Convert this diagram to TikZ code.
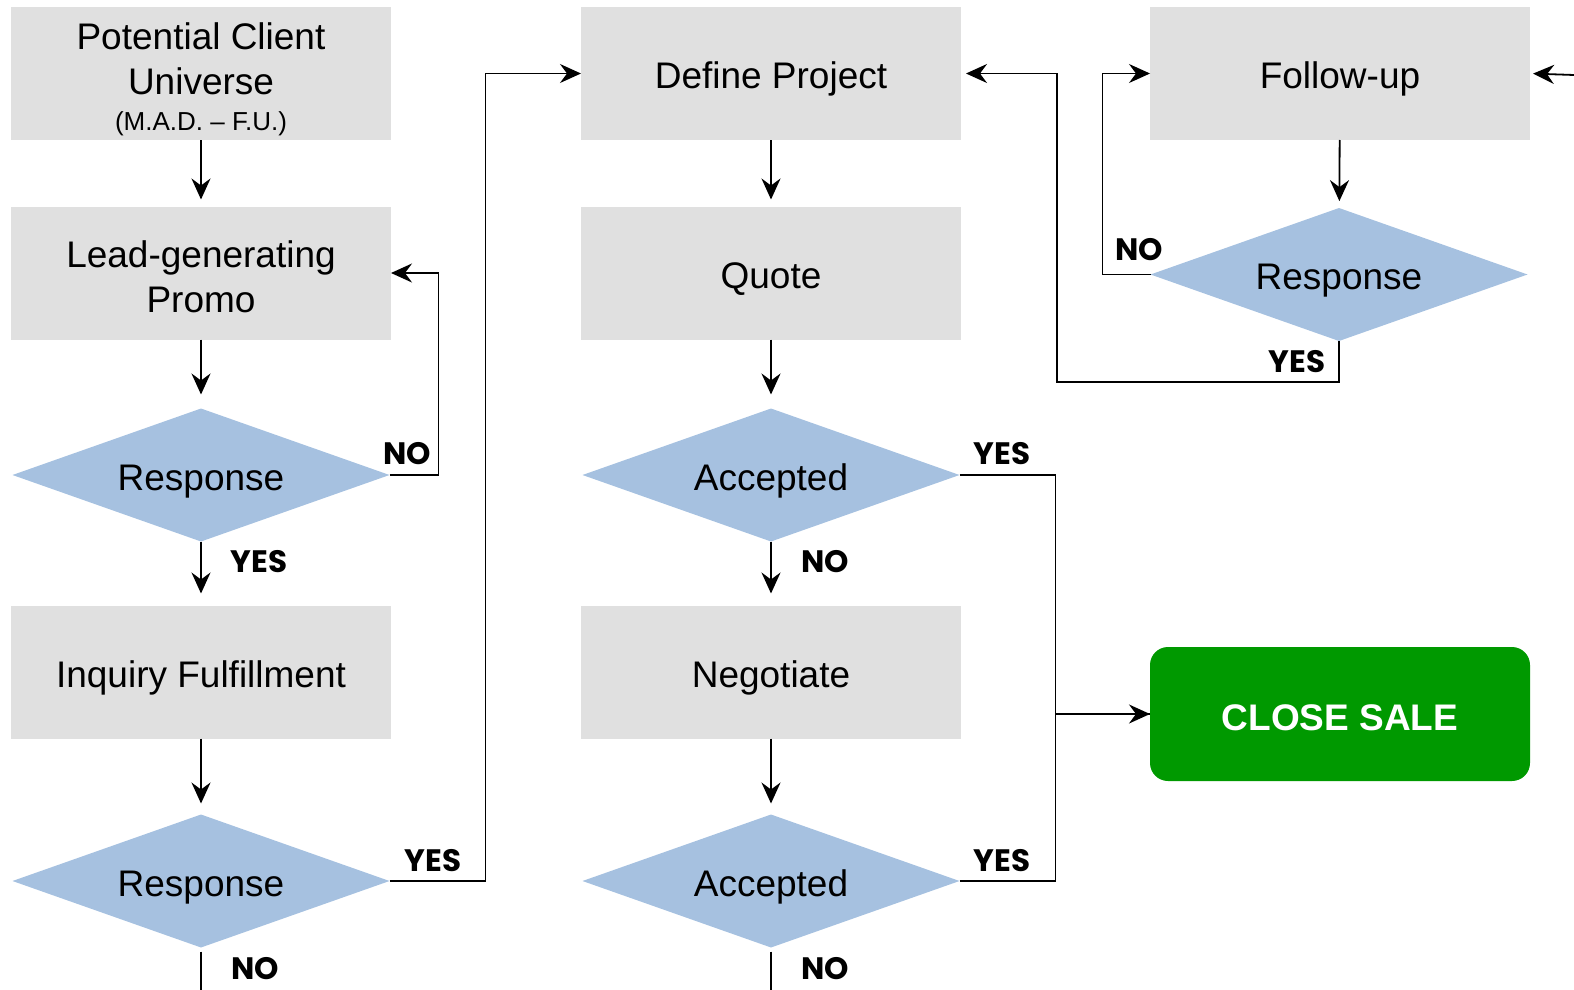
\documentclass[tikz,border=0pt]{standalone}
\usepackage{fontspec}
\setmainfont{Liberation Sans}
\newfontfamily\lblfont{Poppins}
\usetikzlibrary{shapes.geometric,arrows.meta}
\definecolor{boxgray}{RGB}{224,224,224}
\definecolor{diablue}{RGB}{166,193,224}
\definecolor{salegreen}{RGB}{0,153,0}
\newcommand{\topstrut}[1]{\rule{0pt}{#1}}
\begin{document}
\begin{tikzpicture}[x=1pt,y=-1pt,
  every node/.style={inner sep=0pt, outer sep=0pt},
  procbox/.style={rectangle, fill=boxgray, minimum width=380pt, minimum height=133pt,
    align=center, font=\fontsize{37}{45}\selectfont},
  decide/.style={diamond, aspect=2.83, fill=diablue, minimum width=377pt, minimum height=133pt,
    align=center, font=\fontsize{37}{45}\selectfont},
  salebox/.style={rectangle, rounded corners=18pt, fill=salegreen, minimum width=380pt,
    minimum height=134pt, text=white, font=\fontsize{37}{45}\selectfont\bfseries},
  lbl/.style={font=\lblfont\fontsize{31}{36}\selectfont\bfseries},
  conn/.style={line width=1.8pt, -{Stealth[length=21pt,width=19pt,inset=7pt]}},
  plain/.style={line width=1.8pt}
]
\useasboundingbox (0,0) rectangle (1574,990);
% column 1
\node[procbox] (P) at (201,73.5) {\topstrut{38pt}Potential Client\\Universe\\[-9pt]{\fontsize{26}{30}\selectfont (M.A.D. -- F.U.)}};
\node[procbox] (L) at (201,273) {\topstrut{34pt}Lead-generating\\Promo};
\node[decide] (R1) at (201,475) {\topstrut{38pt}Response};
\node[procbox] (I) at (201,672) {\topstrut{38pt}Inquiry Fulfillment};
\node[decide] (R2) at (201,881) {\topstrut{38pt}Response};
% column 2
\node[procbox] (D) at (771,73.5) {\topstrut{38pt}Define Project};
\node[procbox] (Q) at (771,273) {\topstrut{38pt}Quote};
\node[decide] (A1) at (771,475) {\topstrut{38pt}Accepted};
\node[procbox] (N) at (771,672) {\topstrut{38pt}Negotiate};
\node[decide] (A2) at (771,881) {\topstrut{38pt}Accepted};
% column 3
\node[procbox] (F) at (1340,73.5) {\topstrut{38pt}Follow-up};
\node[decide] (R3) at (1339,274.5) {\topstrut{38pt}Response};
\node[salebox] (C) at (1340,714) {\topstrut{33pt}CLOSE SALE};
% free ends
\coordinate (in) at (1574,75);
\coordinate (b1) at (201,990);
\coordinate (b2) at (771,990);
% vertical flow arrows
\draw[conn, shorten >=7pt] (P) -- (L);
\draw[conn, shorten >=14pt] (L) -- (R1);
\draw[conn, shorten >=12pt] (R1) -- (I);
\draw[conn, shorten >=11pt] (I) -- (R2);
\draw[conn, shorten >=7pt] (D) -- (Q);
\draw[conn, shorten >=14pt] (Q) -- (A1);
\draw[conn, shorten >=12pt] (A1) -- (N);
\draw[conn, shorten >=11pt] (N) -- (A2);
\draw[conn, shorten >=7pt] (F) -- (R3);
% loops and branches
\draw[conn] (R1.east) -- ++(49,0) |- (L.east);
\draw[conn] (R2.east) -- ++(96,0) |- (D.west);
\draw[conn] (A1.east) -- ++(96,0) |- (C.west);
\draw[plain] (A2.east) -- ++(96,0) |- (C.west);
\draw[conn] (R3.west) -- ++(-48,0) |- (F.west);
\draw[conn, shorten >=5pt] (R3.south) -- ++(0,41) -| ++(-282,0) |- (D.east);
\draw[conn, shorten >=3pt] (in) -- (F.east);
\draw[plain] ([yshift=-4pt]R2.south) -- (b1);
\draw[plain] ([yshift=-4pt]A2.south) -- (b2);
% labels
\node[lbl] at (407,454) {NO};
\node[lbl] at (259,562) {YES};
\node[lbl] at (433,861) {YES};
\node[lbl] at (255,969) {NO};
\node[lbl] at (1002,454) {YES};
\node[lbl] at (825,562) {NO};
\node[lbl] at (1002,861) {YES};
\node[lbl] at (825,969) {NO};
\node[lbl] at (1139,250) {NO};
\node[lbl] at (1297,362) {YES};
\end{tikzpicture}
\end{document}
